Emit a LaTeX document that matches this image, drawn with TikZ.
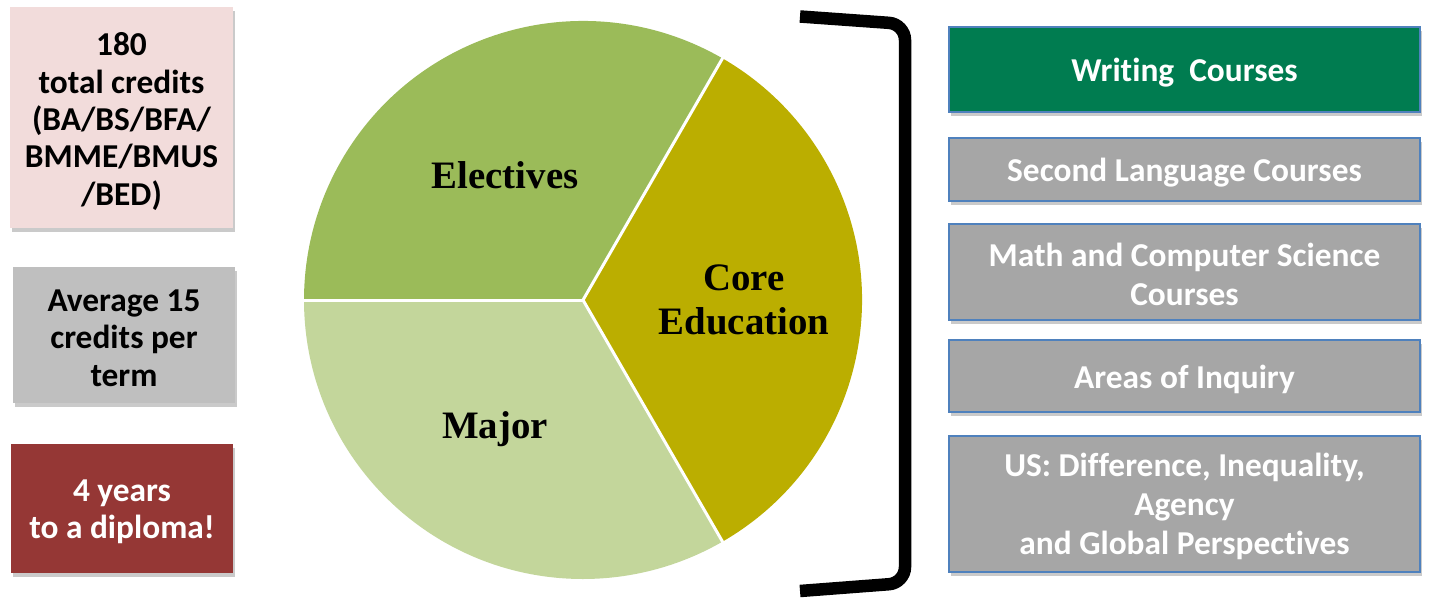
\documentclass[tikz,border=0pt]{standalone}
\usepackage{fontspec}
\setmainfont{Carlito}[RawFeature={-liga}]
\newfontfamily\piefont{Liberation Serif}
\usetikzlibrary{shadows}
\definecolor{pinkbox}{RGB}{242,220,219}
\definecolor{graybox}{RGB}{191,191,191}
\definecolor{redbox}{RGB}{149,55,53}
\definecolor{greenbox}{RGB}{0,124,80}
\definecolor{rgray}{RGB}{166,166,166}
\definecolor{rborder}{RGB}{79,129,189}
\definecolor{elec}{RGB}{155,187,89}
\definecolor{major}{RGB}{195,214,155}
\definecolor{core}{RGB}{187,174,0}
\tikzset{
  boxshadow/.style={drop shadow={shadow xshift=2bp, shadow yshift=-4bp, opacity=0.35, fill=black!60}},
  lefttext/.style={align=center, inner sep=0pt, font=\bfseries\fontsize{33.5}{37.5}\selectfont},
  righttext/.style={align=center, inner sep=0pt, text=white, font=\bfseries\fontsize{33.5}{39}\selectfont},
  leftbox/.style={minimum width=222bp, inner sep=0pt, boxshadow},
  rightbox/.style={draw=rborder, line width=1.5bp, fill=rgray, minimum width=471bp,
    inner sep=0pt, boxshadow},
  pielabel/.style={font=\piefont\bfseries\fontsize{39}{44}\selectfont, align=center, inner sep=0pt},
  slice/.style={draw=white, line width=3bp, line join=round}
}
\begin{document}
\begin{tikzpicture}[x=1bp,y=-1bp]
\useasboundingbox (0,0) rectangle (1429,598);
% left boxes
\node[leftbox, fill=pinkbox, minimum height=221bp,
  label={[lefttext, yshift=-4bp]center:180\\total credits\\(BA/BS/BFA/\\BMME/BMUS\\/BED)}] (credits) at (121.5,117.5) {};
\node[leftbox, fill=graybox, minimum height=136bp,
  label={[lefttext, yshift=-3bp]center:Average 15\\credits per\\term}] (avg) at (124,335) {};
\node[leftbox, fill=redbox, minimum height=129bp,
  label={[lefttext, text=white, yshift=-3.5bp]center:4 years\\to a diploma!}] (years) at (122,508.5) {};
% pie
\coordinate (c) at (583,300);
\fill[elec] (c) -- ++(-60:279) arc[start angle=-60, end angle=-180, radius=279] -- cycle;
\fill[major] (c) -- ++(-180:279) arc[start angle=-180, end angle=-300, radius=279] -- cycle;
\fill[core] (c) -- ++(60:279) arc[start angle=60, end angle=-60, radius=279] -- cycle;
\draw[slice] (c) -- ++(-60:281);
\draw[slice] (c) -- ++(60:281);
\draw[slice] (c) -- ++(180:281);
\node[pielabel] (electives) at (505,175) {Electives};
\node[pielabel] (coreed) at (744,300) {Core\\Education};
\node[pielabel] (majorl) at (495,429) {Major};
% bracket
\draw[line width=12.5bp, rounded corners=16bp] (800,16.5) -- (905,24) -- (905,583) -- (800,591);
% right boxes
\node[rightbox, fill=greenbox, minimum height=85bp,
  label={[righttext, yshift=-3bp]center:Writing\ \ Courses}] (writing) at (1184.5,69.5) {};
\node[rightbox, minimum height=63bp,
  label={[righttext, yshift=-3bp]center:Second Language Courses}] (lang) at (1184.5,169.5) {};
\node[rightbox, minimum height=96bp,
  label={[righttext, yshift=-2bp]center:Math and Computer Science\\Courses}] (math) at (1184.5,272) {};
\node[rightbox, minimum height=72bp,
  label={[righttext, yshift=-3bp]center:Areas of Inquiry}] (aoi) at (1184.5,376) {};
\node[rightbox, minimum height=136bp,
  label={[righttext, yshift=-2.5bp]center:US: Difference, Inequality,\\Agency\\and Global Perspectives}] (us) at (1184.5,504) {};
\end{tikzpicture}
\end{document}
